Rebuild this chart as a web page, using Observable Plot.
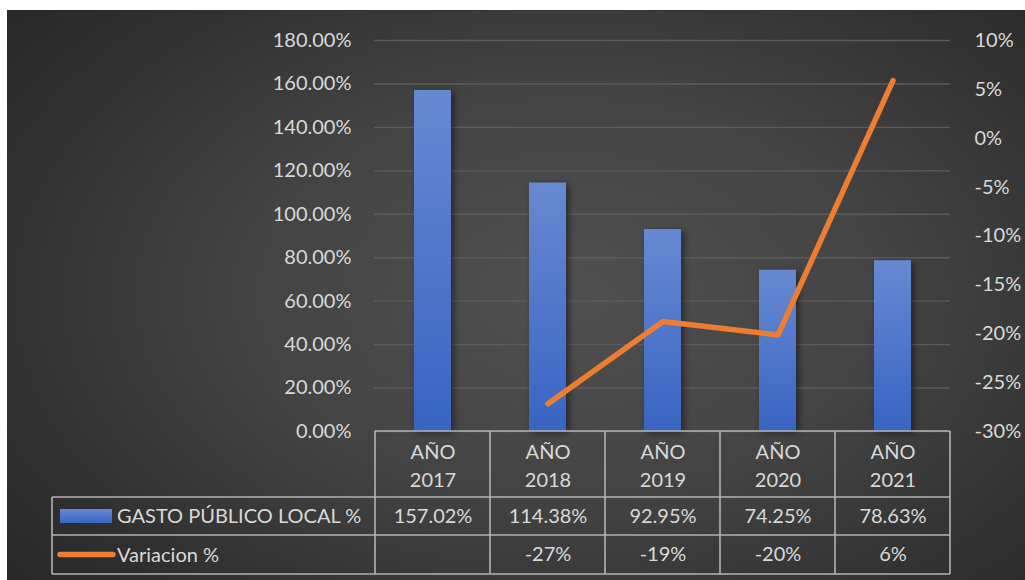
<!DOCTYPE html>
<html><head><meta charset="utf-8">
<script src="https://cdn.jsdelivr.net/npm/d3@7"></script>
<script src="https://cdn.jsdelivr.net/npm/@observablehq/plot@0.6"></script>
<style>
html,body{margin:0;padding:0;background:#fff;}
#chart{position:absolute;left:7px;top:10px;width:1018px;height:570px;
  background: radial-gradient(ellipse 75% 85% at 55% 50%, #505050 0%, #444 40%, #2e2e2e 80%, #262626 100%);}
</style></head><body><div id="chart"></div>
<script>
const years = ["2017", "2018", "2019", "2020", "2021"];
const gasto = [157.02, 114.38, 92.95, 74.25, 78.63];
const variacion = [null, -27.16, -18.74, -20.12, 5.90];
const gastoLabels = ["157.02%", "114.38%", "92.95%", "74.25%", "78.63%"];
const variacionLabels = ["", "-27%", "-19%", "-20%", "6%"];
const leftTicks = [0, 20, 40, 60, 80, 100, 120, 140, 160, 180];
const rightTicks = [-30, -25, -20, -15, -10, -5, 0, 5, 10];
const seriesNames = ["GASTO PÚBLICO LOCAL %", "Variacion %"];

const txt = "#d9d9d9";
const font = "Lato, 'Open Sans', sans-serif";
const data = years.map((y, i) => ({cat: "AÑO " + y, year: y, gasto: gasto[i], vari: variacion[i], gl: gastoLabels[i], vl: variacionLabels[i]}));
const cats = data.map(d => d.cat);
const toLeft = v => (v + 30) * 180 / 40;
const fromLeft = v => Math.round(v * 40 / 180 - 30);

const chart = Plot.plot({
  width: 1018, height: 570,
  marginLeft: 367, marginRight: 75, marginTop: 30, marginBottom: 149,
  style: {background: "transparent", fontFamily: font, fontSize: "20px", color: txt, overflow: "visible"},
  x: {domain: cats, padding: 0, axis: null},
  y: {domain: [0, 180], axis: null},
  marks: [
    Plot.gridY(leftTicks, {stroke: "#5c5c5c", strokeOpacity: 1, strokeWidth: 1.4}),
    Plot.axisY(leftTicks, {anchor: "left", label: null, tickSize: 0, tickPadding: 23, tickFormat: d => d.toFixed(2) + "%", fill: txt, fontSize: 20}),
    Plot.axisY(rightTicks.map(toLeft), {anchor: "right", label: null, tickSize: 0, tickPadding: 24, tickFormat: d => fromLeft(d) + "%", fill: txt, fontSize: 20}),
    Plot.barY(data, {x: "cat", y: "gasto", fill: "url(#barGrad)", insetLeft: 39, insetRight: 39}),
    Plot.line(data.filter(d => d.vari != null), {x: "cat", y: d => toLeft(d.vari), stroke: "#ED7D31", strokeWidth: 5.5, strokeLinecap: "round", strokeLinejoin: "round"}),
    Plot.text(data, {x: "cat", text: d => "AÑO\n" + d.year, frameAnchor: "bottom", lineAnchor: "middle", dy: 33, lineHeight: 1.4, fill: txt, fontSize: 20}),
    Plot.text(data, {x: "cat", text: "gl", frameAnchor: "bottom", lineAnchor: "middle", dy: 85, fill: txt, fontSize: 20}),
    Plot.text(data, {x: "cat", text: "vl", frameAnchor: "bottom", lineAnchor: "middle", dy: 123, fill: txt, fontSize: 20})
  ]
});
document.getElementById("chart").appendChild(chart);

const svg = d3.select(chart);
const defs = svg.insert("defs", ":first-child");
const grad = defs.append("linearGradient").attr("id", "barGrad").attr("x1", 0).attr("y1", 0).attr("x2", 0).attr("y2", 1);
grad.append("stop").attr("offset", "0%").attr("stop-color", "#6789d2");
grad.append("stop").attr("offset", "100%").attr("stop-color", "#3864c2");
svg.selectAll("g[aria-label='bar']").style("filter", "drop-shadow(3px 2px 3px rgba(0,0,0,0.45))");

const x = chart.scale("x"), y = chart.scale("y");
const bw = x.bandwidth;
const xs = cats.map(c => x.apply(c));
const xR = xs[xs.length - 1] + bw;
const y0 = y.apply(0);
const r1 = y0 + 66, r2 = y0 + 104, r3 = y0 + 143;
const legL = 45;
const grid = svg.append("g").attr("stroke", "#b3b3b3").attr("stroke-width", 1.6).attr("fill", "none");
const line = (x1, y1, x2, y2) => grid.append("line").attr("x1", x1).attr("y1", y1).attr("x2", x2).attr("y2", y2);
line(xs[0], y0, xR, y0);
line(legL, r1, xR, r1);
line(legL, r2, xR, r2);
line(legL, r3, xR, r3);
line(legL, r1, legL, r3);
xs.forEach(v => line(v, y0, v, r3));
line(xR, y0, xR, r3);

const leg = svg.append("g").attr("font-family", font).attr("font-size", 20).attr("fill", txt).attr("text-anchor", "start");
leg.append("rect").attr("x", 53).attr("y", r1 + 12).attr("width", 52).attr("height", 14).attr("fill", "url(#barGrad)");
leg.append("text").attr("x", 110).attr("y", (r1 + r2) / 2).attr("dy", "0.35em").text(seriesNames[0]);
leg.append("line").attr("x1", 53).attr("x2", 106).attr("y1", (r2 + r3) / 2).attr("y2", (r2 + r3) / 2)
  .attr("stroke", "#ED7D31").attr("stroke-width", 5.5).attr("stroke-linecap", "round");
leg.append("text").attr("x", 110).attr("y", (r2 + r3) / 2).attr("dy", "0.35em").text(seriesNames[1]);
</script>
</body></html>
